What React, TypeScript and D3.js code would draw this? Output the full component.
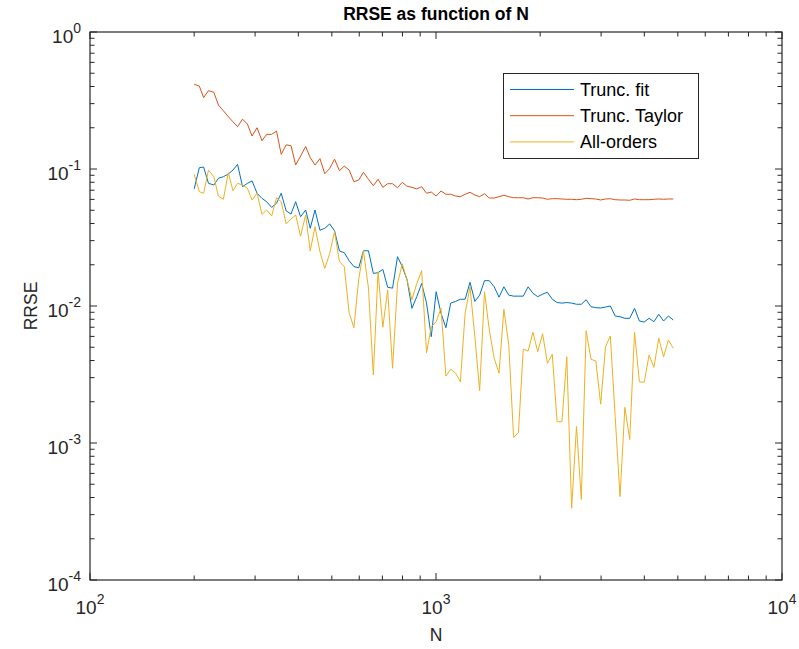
import React from 'react';
import * as d3 from 'd3';

// Sample sizes N (log-spaced)
const N = [
  200, 207, 213, 220, 228, 235, 243, 251, 259, 267,
  276, 285, 294, 304, 314, 324, 335, 346, 357, 369,
  381, 393, 406, 420, 433, 447, 462, 477, 493, 509,
  526, 543, 561, 579, 598, 617, 638, 659, 680, 702,
  725, 749, 774, 799, 825, 852, 880, 909, 939, 969,
  1001, 1034, 1068, 1103, 1139, 1176, 1214, 1254, 1295, 1337,
  1381, 1426, 1473, 1521, 1571, 1623, 1676, 1731, 1787, 1846,
  1906, 1968, 2033, 2099, 2168, 2239, 2312, 2388, 2466, 2547,
  2630, 2716, 2805, 2897, 2992, 3090, 3191, 3295, 3403, 3515,
  3630, 3748, 3871, 3998, 4129, 4264, 4403, 4547, 4696, 4850,
];

const truncFit = [
  0.0715, 0.1022, 0.1034, 0.0786, 0.0764, 0.0855, 0.0879, 0.0919, 0.0983, 0.1082,
  0.0743, 0.0786, 0.0818, 0.0665, 0.0611, 0.0577, 0.0525, 0.0562, 0.0665, 0.0494,
  0.0469, 0.0577, 0.0448, 0.0502, 0.0369, 0.0502, 0.0357, 0.0369, 0.0397, 0.0354,
  0.0252, 0.0245, 0.0214, 0.0194, 0.0190, 0.0253, 0.0253, 0.0173, 0.0175, 0.0185,
  0.0137, 0.0135, 0.0229, 0.0194, 0.0155, 0.00962, 0.0117, 0.0146, 0.0105, 0.00597,
  0.0127, 0.00885, 0.00694, 0.0105, 0.0108, 0.0112, 0.0112, 0.0149, 0.0108, 0.0120,
  0.0153, 0.0153, 0.0138, 0.0116, 0.0138, 0.0120, 0.0118, 0.0118, 0.0118, 0.0138,
  0.0124, 0.0117, 0.0122, 0.0126, 0.0112, 0.0106, 0.0105, 0.0106, 0.0105, 0.0103,
  0.0103, 0.0111, 0.00988, 0.00972, 0.00967, 0.00983, 0.0100, 0.00845, 0.00835, 0.00813,
  0.00813, 0.00962, 0.00777, 0.00764, 0.00813, 0.00768, 0.00870, 0.00777, 0.00845, 0.00790,
];

const truncTaylor = [
  0.415, 0.403, 0.332, 0.373, 0.363, 0.293, 0.266, 0.241, 0.221, 0.204,
  0.231, 0.213, 0.174, 0.200, 0.161, 0.179, 0.179, 0.189, 0.128, 0.150,
  0.148, 0.107, 0.124, 0.146, 0.121, 0.107, 0.119, 0.0924, 0.101, 0.118,
  0.0972, 0.105, 0.0983, 0.0808, 0.0831, 0.0946, 0.0841, 0.0755, 0.0841, 0.0735,
  0.0781, 0.0781, 0.0730, 0.0799, 0.0748, 0.0735, 0.0715, 0.0743, 0.0665, 0.0679,
  0.0635, 0.0691, 0.0654, 0.0654, 0.0635, 0.0628, 0.0654, 0.0676, 0.0646, 0.0628,
  0.0660, 0.0614, 0.0614, 0.0628, 0.0643, 0.0628, 0.0617, 0.0617, 0.0617, 0.0604,
  0.0617, 0.0617, 0.0614, 0.0601, 0.0607, 0.0607, 0.0604, 0.0601, 0.0601, 0.0597,
  0.0601, 0.0611, 0.0607, 0.0604, 0.0594, 0.0604, 0.0607, 0.0597, 0.0594, 0.0594,
  0.0591, 0.0604, 0.0597, 0.0597, 0.0597, 0.0601, 0.0604, 0.0601, 0.0604, 0.0604,
];

const allOrders = [
  0.0915, 0.0683, 0.0665, 0.0983, 0.0879, 0.0635, 0.0601, 0.0940, 0.0694, 0.0786,
  0.0764, 0.0723, 0.0594, 0.0665, 0.0467, 0.0502, 0.0454, 0.0617, 0.0577, 0.0397,
  0.0432, 0.0462, 0.0323, 0.0462, 0.0252, 0.0379, 0.0249, 0.0188, 0.0242, 0.0349,
  0.0211, 0.0194, 0.00894, 0.00694, 0.0157, 0.0253, 0.0135, 0.00314, 0.0178, 0.00699,
  0.0131, 0.00351, 0.0146, 0.0203, 0.0155, 0.0111, 0.0146, 0.0181, 0.00456, 0.00706,
  0.00768, 0.00962, 0.00308, 0.00345, 0.00324, 0.00280, 0.00885, 0.0138, 0.00597, 0.00241,
  0.0127, 0.00668, 0.00415, 0.00323, 0.00946, 0.00519, 0.00110, 0.00119, 0.00485, 0.00469,
  0.00643, 0.00464, 0.00628, 0.00382, 0.00444, 0.00143, 0.00143, 0.00426, 0.000334, 0.00132,
  0.000388, 0.00660, 0.00408, 0.00397, 0.00192, 0.00505, 0.00604, 0.00156, 0.000406, 0.00182,
  0.00106, 0.00643, 0.00280, 0.00277, 0.00439, 0.00357, 0.00581, 0.00426, 0.00565, 0.00491,
];

const seriesNames = ['Trunc. fit', 'Trunc. Taylor', 'All-orders'];
const seriesColors = ['#0072BD', '#D95319', '#EDB120'];
const xTickExps = [2, 3, 4];
const yTickExps = [0, -1, -2, -3, -4];
const titleText = 'RRSE as function of N';
const xLabel = 'N';
const yLabel = 'RRSE';

const W = 799;
const H = 649;
const L = 90, R = 782, T = 32, B = 580;
const FONT = "'Liberation Sans', Arial, Helvetica, sans-serif";
const AX = '#262626';

export default function App() {
  const x = d3.scaleLog().domain([1e2, 1e4]).range([L, R]);
  const y = d3.scaleLog().domain([1e-4, 1]).range([B, T]);
  const allSeries = [truncFit, truncTaylor, allOrders];

  const line = d3
    .line<number>()
    .x((_, i) => x(N[i]))
    .y((d) => y(d));

  const xMajor = xTickExps.map((e) => Math.pow(10, e));
  const yMajor = yTickExps.map((e) => Math.pow(10, e));
  const xMinor: number[] = [];
  xMajor.slice(0, -1).forEach((d) => {
    for (let m = 2; m <= 9; m++) xMinor.push(m * d);
  });
  const yMinor: number[] = [];
  yMajor.slice(1).forEach((d) => {
    for (let m = 2; m <= 9; m++) yMinor.push(m * d);
  });

  const majLen = 7;
  const minLen = 4.5;

  return (
    <svg
      width={W}
      height={H}
      style={{ position: 'absolute', left: 0, top: 0, background: '#fff' }}
      fontFamily={FONT}
    >
      <rect x={0} y={0} width={W} height={H} fill="#fff" />
      <rect x={L} y={T} width={R - L} height={B - T} fill="#fff" />

      <g clipPath="url(#plotclip)">
        <defs>
          <clipPath id="plotclip">
            <rect x={L} y={T} width={R - L} height={B - T} />
          </clipPath>
        </defs>
        {allSeries.map((s, i) => (
          <path
            key={i}
            d={line(s) || ''}
            fill="none"
            stroke={seriesColors[i]}
            strokeWidth={1}
            strokeLinejoin="round"
          />
        ))}
      </g>

      {/* ticks */}
      <g stroke={AX} strokeWidth={1}>
        {xMajor.map((v, i) => (
          <g key={'xM' + i}>
            <line x1={x(v)} x2={x(v)} y1={B} y2={B - majLen} />
            <line x1={x(v)} x2={x(v)} y1={T} y2={T + majLen} />
          </g>
        ))}
        {xMinor.map((v, i) => (
          <g key={'xm' + i}>
            <line x1={x(v)} x2={x(v)} y1={B} y2={B - minLen} />
            <line x1={x(v)} x2={x(v)} y1={T} y2={T + minLen} />
          </g>
        ))}
        {yMajor.map((v, i) => (
          <g key={'yM' + i}>
            <line x1={L} x2={L + majLen} y1={y(v)} y2={y(v)} />
            <line x1={R} x2={R - majLen} y1={y(v)} y2={y(v)} />
          </g>
        ))}
        {yMinor.map((v, i) => (
          <g key={'ym' + i}>
            <line x1={L} x2={L + minLen} y1={y(v)} y2={y(v)} />
            <line x1={R} x2={R - minLen} y1={y(v)} y2={y(v)} />
          </g>
        ))}
      </g>

      {/* axes box */}
      <rect x={L} y={T} width={R - L} height={B - T} fill="none" stroke={AX} strokeWidth={1.2} />

      {/* x tick labels */}
      {xTickExps.map((e, i) => (
        <text key={'xl' + i} x={x(Math.pow(10, e))} y={B + 34} textAnchor="middle" fill={AX} fontSize={19}>
          10
          <tspan fontSize={14} dy={-10}>{String(e)}</tspan>
        </text>
      ))}

      {/* y tick labels */}
      {yTickExps.map((e, i) => (
        <text key={'yl' + i} x={L - 9} y={y(Math.pow(10, e)) + 11} textAnchor="end" fill={AX} fontSize={19}>
          10
          <tspan fontSize={14} dy={-10}>{e < 0 ? '-' + String(-e) : String(e)}</tspan>
        </text>
      ))}

      {/* axis labels */}
      <text x={(L + R) / 2} y={641} textAnchor="middle" fill={AX} fontSize={17.5}>
        {xLabel}
      </text>
      <text
        transform={`translate(37, ${(T + B) / 2}) rotate(-90)`}
        textAnchor="middle"
        fill={AX}
        fontSize={17.5}
      >
        {yLabel}
      </text>

      {/* title */}
      <text x={(L + R) / 2} y={20} textAnchor="middle" fill="#000" fontSize={17.5} fontWeight="bold">
        {titleText}
      </text>

      {/* legend */}
      <g>
        <rect x={503.5} y={73.5} width={195} height={85} fill="#fff" stroke={AX} strokeWidth={1} />
        {seriesNames.map((name, i) => {
          const ly = 89.5 + i * 26.2;
          return (
            <g key={'lg' + i}>
              <line x1={510} x2={574} y1={ly} y2={ly} stroke={seriesColors[i]} strokeWidth={1} />
              <text x={580} y={ly + 6.5} fill="#000" fontSize={18}>
                {name}
              </text>
            </g>
          );
        })}
      </g>
    </svg>
  );
}
